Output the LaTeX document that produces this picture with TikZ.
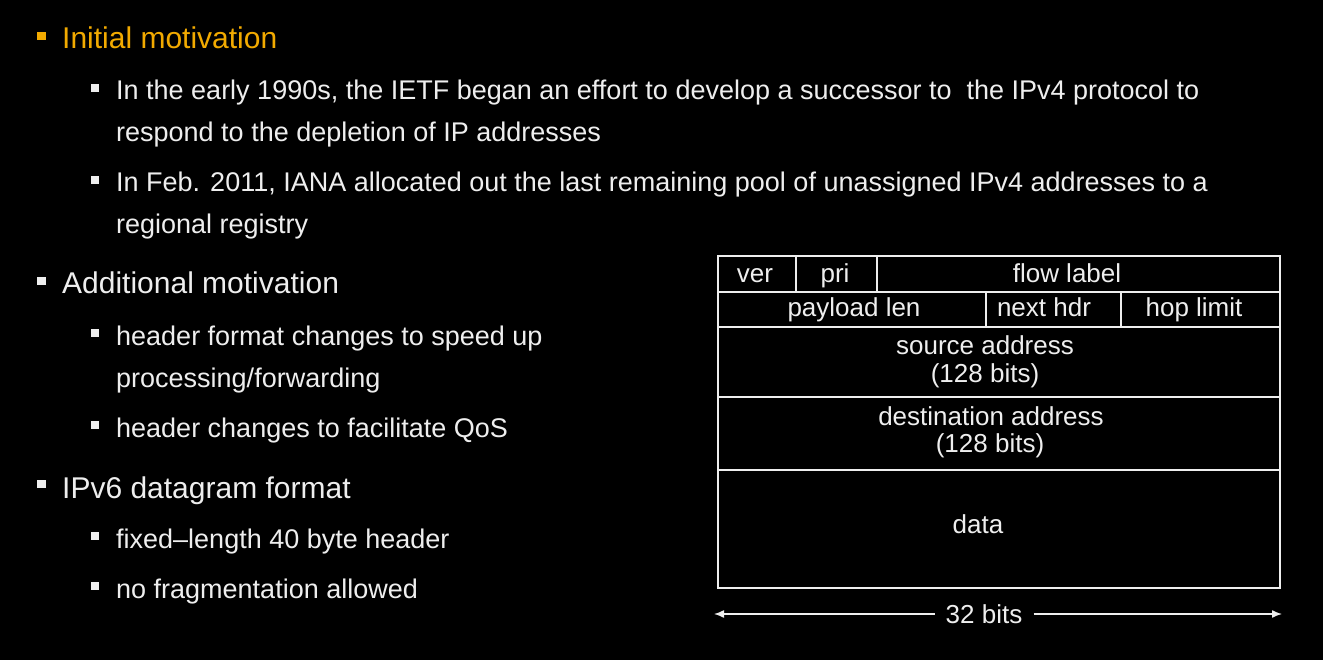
\documentclass[tikz,border=0pt]{standalone}
\usepackage{fontspec}
\setmainfont{Liberation Sans}
\usetikzlibrary{arrows.meta}
\definecolor{orng}{RGB}{242,170,0}
\definecolor{txtw}{RGB}{238,238,238}
\begin{document}
\begin{tikzpicture}[x=1pt,y=-1pt,
  lvlone/.style={anchor=base west, inner sep=0, font=\fontsize{30}{36}\selectfont, text=txtw},
  lvltwo/.style={anchor=base west, inner sep=0, font=\fontsize{27}{32}\selectfont, text=txtw},
  bulone/.style={fill=txtw, minimum size=8.5pt, inner sep=0},
  bultwo/.style={fill=txtw, minimum size=7.5pt, inner sep=0},
  cell/.style={draw=txtw, line width=1.6pt, anchor=north west, inner sep=0},
  lbl/.style={anchor=base, text=txtw, font=\fontsize{26}{30}\selectfont, inner sep=0}
]
\fill[black] (0,0) rectangle (1323,660);
\useasboundingbox (0,0) rectangle (1323,660);

% left bullets
\node[bulone, fill=orng] (b1) at (41.5,36) {};
\node[lvlone, text=orng] (t1) at (62,49) {Initial motivation};
\node[bultwo] (b11) at (95,88) {};
\node[lvltwo] (t11) at (116,100) {In the early 1990s, the IETF began an effort to develop a successor to \ the IPv4 protocol to};
\node[lvltwo] (t11b) at (116,142) {respond to the depletion of IP addresses};
\node[bultwo] (b12) at (95,180) {};
\node[lvltwo] (t12) at (116,192) {In Feb. 2011, IANA allocated out the last remaining pool of unassigned IPv4 addresses to a};
\node[lvltwo] (t12b) at (116,234) {regional registry};

\node[bulone] (b2) at (41.5,281) {};
\node[lvlone] (t2) at (62,294) {Additional motivation};
\node[bultwo] (b21) at (95,333) {};
\node[lvltwo] (t21) at (116,345) {header format changes to speed up};
\node[lvltwo] (t21b) at (116,388) {processing/forwarding};
\node[bultwo] (b22) at (95,425) {};
\node[lvltwo] (t22) at (116,437) {header changes to facilitate QoS};

\node[bulone] (b3) at (41.5,484) {};
\node[lvlone] (t3) at (62,498) {IPv6 datagram format};
\node[bultwo] (b31) at (95,536) {};
\node[lvltwo] (t31) at (116,548) {fixed–length 40 byte header};
\node[bultwo] (b32) at (95,586) {};
\node[lvltwo] (t32) at (116,598) {no fragmentation allowed};

% datagram table
\node[cell, minimum width=78pt, minimum height=36pt] (ver) at (717,255) {};
\node[cell, minimum width=81pt, minimum height=36pt] (pri) at (795,255) {};
\node[cell, minimum width=403pt, minimum height=36pt] (flow) at (876,255) {};
\node[cell, minimum width=268pt, minimum height=35pt] (plen) at (717,291) {};
\node[cell, minimum width=135pt, minimum height=35pt] (nhdr) at (985,291) {};
\node[cell, minimum width=159pt, minimum height=35pt] (hop) at (1120,291) {};
\node[cell, minimum width=562pt, minimum height=70pt] (src) at (717,326) {};
\node[cell, minimum width=562pt, minimum height=73pt] (dst) at (717,396) {};
\node[cell, minimum width=562pt, minimum height=118pt] (data) at (717,469) {};

\node[lbl] (lver) at (755,283) {ver};
\node[lbl] (lpri) at (835,283) {pri};
\node[lbl] (lflow) at (1067,283) {flow label};
\node[lbl] (lplen) at (854,317) {payload len};
\node[lbl] (lnhdr) at (1044,317) {next hdr};
\node[lbl] (lhop) at (1194,317) {hop limit};
\node[lbl] (lsrc) at (985,355) {source address};
\node[lbl] (lsrcb) at (985,382) {(128 bits)};
\node[lbl] (ldst) at (991,425) {destination address};
\node[lbl] (ldstb) at (990,452) {(128 bits)};
\node[lbl] (ldata) at (978,533) {data};

% width arrow
\node[lbl, anchor=center, inner xsep=11pt] (bits) at (984,614) {32 bits};
\coordinate (aleft) at (714,614);
\coordinate (aright) at (1282,614);
\draw[txtw, line width=1.4pt, -{Latex[length=10pt,width=8pt]}] (bits.west) -- (aleft);
\draw[txtw, line width=1.4pt, -{Latex[length=10pt,width=8pt]}] (bits.east) -- (aright);
\end{tikzpicture}
\end{document}
